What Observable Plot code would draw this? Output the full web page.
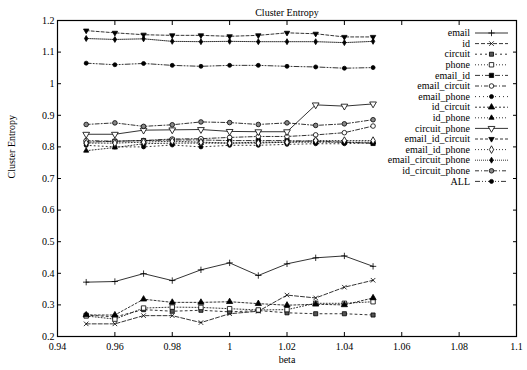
<!DOCTYPE html>
<html>
<head>
<meta charset="utf-8">
<script src="https://cdn.jsdelivr.net/npm/d3@7"></script>
<script src="https://cdn.jsdelivr.net/npm/@observablehq/plot@0.6"></script>
<style>
  body { margin: 0; background: white; }
  svg { display: block; }
  svg text { font-family: "Liberation Serif", "DejaVu Serif", serif; }
</style>
</head>
<body>
<div id="chart"></div>
<script>
// ---- data ----
const beta = [0.95, 0.96, 0.97, 0.98, 0.99, 1.00, 1.01, 1.02, 1.03, 1.04, 1.05];
const xTicks = [0.94, 0.96, 0.98, 1.00, 1.02, 1.04, 1.06, 1.08, 1.10];
const yTicks = [0.2, 0.3, 0.4, 0.5, 0.6, 0.7, 0.8, 0.9, 1.0, 1.1, 1.2];

const email               = [0.372, 0.374, 0.399, 0.377, 0.411, 0.433, 0.393, 0.430, 0.449, 0.455, 0.422];
const id                  = [0.240, 0.240, 0.266, 0.266, 0.244, 0.272, 0.280, 0.331, 0.322, 0.356, 0.378];
const circuit             = [0.268, 0.262, 0.285, 0.280, 0.283, 0.278, 0.282, 0.275, 0.272, 0.272, 0.268];
const phone               = [0.265, 0.255, 0.290, 0.293, 0.292, 0.288, 0.284, 0.285, 0.305, 0.305, 0.310];
const email_id            = [0.815, 0.818, 0.820, 0.822, 0.822, 0.820, 0.820, 0.820, 0.818, 0.815, 0.811];
const email_circuit       = [0.820, 0.818, 0.820, 0.825, 0.826, 0.830, 0.833, 0.833, 0.838, 0.845, 0.866];
const email_phone         = [0.805, 0.800, 0.800, 0.806, 0.800, 0.805, 0.805, 0.808, 0.810, 0.810, 0.813];
const id_circuit          = [0.268, 0.268, 0.318, 0.308, 0.308, 0.310, 0.304, 0.299, 0.302, 0.300, 0.322];
const id_phone            = [0.788, 0.798, 0.810, 0.812, 0.812, 0.812, 0.815, 0.815, 0.815, 0.815, 0.815];
const circuit_phone       = [0.840, 0.840, 0.853, 0.854, 0.855, 0.849, 0.848, 0.848, 0.933, 0.929, 0.936];
const email_id_circuit    = [1.168, 1.161, 1.155, 1.153, 1.153, 1.150, 1.153, 1.161, 1.158, 1.148, 1.148];
const email_id_phone      = [0.812, 0.812, 0.815, 0.818, 0.815, 0.812, 0.812, 0.815, 0.820, 0.820, 0.820];
const email_circuit_phone = [1.143, 1.140, 1.142, 1.134, 1.133, 1.134, 1.133, 1.133, 1.133, 1.130, 1.134];
const id_circuit_phone    = [0.871, 0.876, 0.865, 0.870, 0.879, 0.877, 0.871, 0.876, 0.868, 0.873, 0.886];
const ALL                 = [1.065, 1.060, 1.064, 1.058, 1.055, 1.058, 1.058, 1.055, 1.053, 1.049, 1.051];

const seriesNames = ["email","id","circuit","phone","email_id","email_circuit","email_phone","id_circuit","id_phone","circuit_phone","email_id_circuit","email_id_phone","email_circuit_phone","id_circuit_phone","ALL"];
const seriesValues = [email,id,circuit,phone,email_id,email_circuit,email_phone,id_circuit,id_phone,circuit_phone,email_id_circuit,email_id_phone,email_circuit_phone,id_circuit_phone,ALL];

// ---- styles ----
const styles = [
  {dash: null,          symbol: "plus",     fill: "none",  r: 2.2, rotate: 0},
  {dash: "4,2",         symbol: "times",    fill: "none",  r: 2.2, rotate: 0},
  {dash: "2,3",         symbol: "square",   fill: "#555",  r: 2.3, rotate: 0},
  {dash: "1,2",         symbol: "square",   fill: "white", r: 2.5, rotate: 0},
  {dash: "5,2,1,2",     symbol: "square",   fill: "black", r: 2.4, rotate: 0},
  {dash: "4,2,1,2",     symbol: "circle",   fill: "white", r: 2.3, rotate: 0},
  {dash: "1,3",         symbol: "circle",   fill: "black", r: 2.0, rotate: 0},
  {dash: "2,2",         symbol: "triangle", fill: "black", r: 2.3, rotate: 0},
  {dash: "1,2",         symbol: "triangle", fill: "black", r: 1.9, rotate: 0},
  {dash: null,          symbol: "triangle", fill: "white", r: 2.5, rotate: 180},
  {dash: "3,2",         symbol: "triangle", fill: "black", r: 2.0, rotate: 180},
  {dash: "1,2",         symbol: "diamond",  fill: "white", r: 2.3, rotate: 0},
  {dash: "1,1",         symbol: "diamond",  fill: "black", r: 1.8, rotate: 0},
  {dash: "4,2,1,2",     symbol: "circle",   fill: "#888",  r: 2.3, rotate: 0},
  {dash: "5,2,1,2,1,2", symbol: "circle",   fill: "black", r: 2.0, rotate: 0}
];

const FONT = "Liberation Serif";
const fmt = d => String(+d.toFixed(2));

const marks = [];
seriesNames.forEach((name, k) => {
  const data = beta.map((b, i) => ({beta: b, value: seriesValues[k][i], series: name}));
  const s = styles[k];
  marks.push(Plot.line(data, {x: "beta", y: "value", stroke: "black", strokeWidth: 0.8, strokeDasharray: s.dash || undefined}));
  marks.push(Plot.dot(data, {x: "beta", y: "value", symbol: () => s.symbol, r: s.r, fill: s.fill, stroke: "black", strokeWidth: 0.8, rotate: s.rotate}));
});

const chart = Plot.plot({
  width: 527,
  height: 370,
  marginLeft: 57,
  marginRight: 11,
  marginTop: 20,
  marginBottom: 34,
  style: {fontFamily: FONT, fontSize: "10px", background: "white", color: "black"},
  x: {domain: [0.94, 1.10]},
  y: {domain: [0.2, 1.2]},
  symbol: {type: "identity"},
  marks: [
    Plot.axisX(xTicks, {anchor: "bottom", tickSize: -4, tickPadding: 10, tickFormat: fmt, label: null, fontSize: 10, fontFamily: FONT}),
    Plot.axisX(xTicks, {anchor: "top", tickSize: -4, tickFormat: () => "", label: null}),
    Plot.axisY(yTicks, {anchor: "left", tickSize: -4, tickPadding: 7, tickFormat: fmt, label: null, fontSize: 10, fontFamily: FONT}),
    Plot.axisY(yTicks, {anchor: "right", tickSize: -4, tickFormat: () => "", label: null}),
    ...marks,
    Plot.frame({stroke: "black", strokeWidth: 1.2}),
    Plot.text(["Cluster Entropy"], {text: d => d, frameAnchor: "top", dy: -12, fontSize: 10, fontFamily: FONT}),
    Plot.text(["beta"], {text: d => d, frameAnchor: "bottom", dy: 26, fontSize: 10, fontFamily: FONT}),
    Plot.text(["Cluster Entropy"], {text: d => d, frameAnchor: "left", dx: -46, rotate: -90, fontSize: 10, fontFamily: FONT})
  ]
});

document.getElementById("chart").appendChild(chart);

// ---- legend (inside plot, top right) ----
const svg = d3.select(chart);
const symMap = {plus: d3.symbolPlus, times: d3.symbolTimes, square: d3.symbolSquare, circle: d3.symbolCircle, triangle: d3.symbolTriangle, diamond: d3.symbolDiamond};
const lg = svg.append("g").style("font-family", FONT).style("font-size", "10px").style("font-weight", "normal");
const textX = 470, lineX0 = 475, lineX1 = 508, rowY0 = 33, rowH = 10.6;
seriesNames.forEach((name, k) => {
  const s = styles[k];
  const yy = rowY0 + k * rowH;
  lg.append("text").attr("x", textX).attr("y", yy).attr("dy", "0.32em").attr("text-anchor", "end").attr("fill", "black").text(name);
  lg.append("line").attr("x1", lineX0).attr("x2", lineX1).attr("y1", yy).attr("y2", yy)
    .attr("stroke", "black").attr("stroke-width", 0.8).attr("stroke-dasharray", s.dash || null);
  lg.append("path").attr("d", d3.symbol(symMap[s.symbol], Math.PI * s.r * s.r)())
    .attr("transform", `translate(${(lineX0 + lineX1) / 2},${yy}) rotate(${s.rotate})`)
    .attr("fill", s.fill).attr("stroke", "black").attr("stroke-width", 0.8);
});
</script>
</body>
</html>
